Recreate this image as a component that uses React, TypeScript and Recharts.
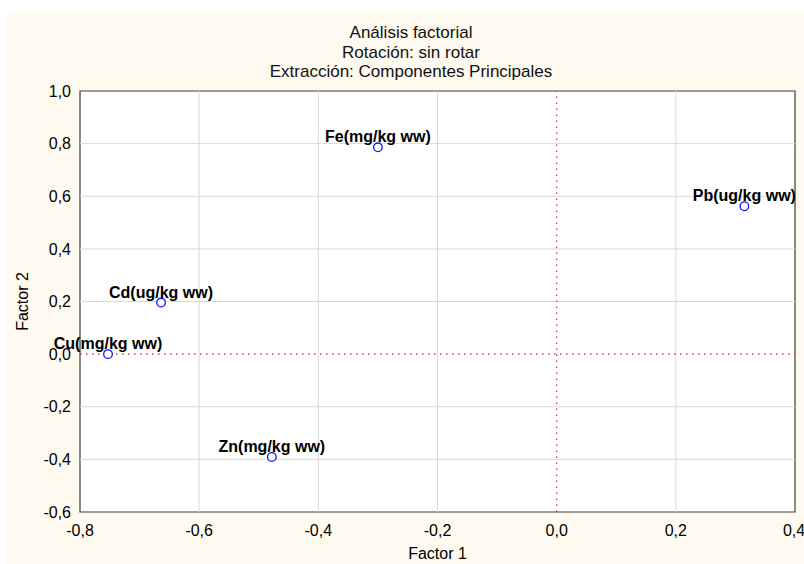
import React from 'react';
import {
  ScatterChart,
  Scatter,
  XAxis,
  YAxis,
  CartesianGrid,
  ReferenceLine,
  ReferenceArea,
  LabelList,
} from 'recharts';

const factorNames = ['Fe(mg/kg ww)', 'Pb(ug/kg ww)', 'Cd(ug/kg ww)', 'Cu(mg/kg ww)', 'Zn(mg/kg ww)'];
const factor1 = [-0.3, 0.315, -0.664, -0.753, -0.478];
const factor2 = [0.786, 0.562, 0.196, 0.0, -0.391];
const xTicks = [-0.8, -0.6, -0.4, -0.2, 0, 0.2, 0.4];
const yTicks = [-0.6, -0.4, -0.2, 0, 0.2, 0.4, 0.6, 0.8, 1.0];
const titleLines = ['Análisis factorial', 'Rotación: sin rotar', 'Extracción: Componentes Principales'];
const xLabel = 'Factor 1';
const yLabel = 'Factor 2';

const data = factorNames.map((name, i) => ({ name, x: factor1[i], y: factor2[i] }));

const FONT = '"Liberation Sans", Arial, sans-serif';
const fmt = (v: number) => v.toFixed(1).replace('.', ',');

const W = 797;
const H = 553;

const Dot = (props: any) => {
  const { cx, cy } = props;
  if (cx == null || cy == null) return null;
  return <circle cx={cx} cy={cy} r={4.3} fill="#ffffff" stroke="#1010ff" strokeWidth={1.3} />;
};

const PointLabel = (props: any) => {
  const { x, y, width, value } = props;
  const cx = x + width / 2;
  return (
    <text
      x={cx}
      y={y + (props.height || 0) / 2 - 5}
      textAnchor="middle"
      fontFamily={FONT}
      fontSize={16}
      fontWeight="bold"
      fill="#000"
    >
      {value}
    </text>
  );
};

export default function App() {
  return (
    <div style={{ position: 'absolute', left: 7, top: 11, width: W, height: H, background: '#FFFAEF' }}>
      <ScatterChart
        width={W}
        height={H}
        margin={{ top: 80, right: 9, left: 0, bottom: 0 }}
        style={{ fontFamily: FONT }}
      >
        <CartesianGrid horizontal={false} vertical={false} fill="#ffffff" />
        <XAxis
          type="number"
          dataKey="x"
          domain={[-0.8, 0.4]}
          ticks={xTicks}
          tickFormatter={fmt}
          allowDataOverflow
          height={52}
          axisLine={false}
          tickLine={false}
          tickSize={0}
          tickMargin={13}
          tick={{ fill: '#000', fontSize: 16, fontFamily: FONT }}
          label={{ value: xLabel, position: 'insideBottom', offset: 5.5, fill: '#000', fontSize: 16, fontFamily: FONT }}
        />
        <YAxis
          type="number"
          dataKey="y"
          domain={[-0.6, 1.0]}
          ticks={yTicks}
          tickFormatter={fmt}
          allowDataOverflow
          width={73}
          axisLine={false}
          tickLine={false}
          tickSize={0}
          tickMargin={9}
          tick={{ fill: '#000', fontSize: 16, fontFamily: FONT }}
          label={{
            value: yLabel,
            angle: -90,
            position: 'insideLeft',
            offset: 15,
            fill: '#000',
            fontSize: 16,
            fontFamily: FONT,
            style: { textAnchor: 'middle' },
          }}
        />
        {xTicks
          .filter((t) => t !== 0 && t !== xTicks[0] && t !== xTicks[xTicks.length - 1])
          .map((t) => (
            <ReferenceLine key={'vx' + t} x={t} stroke="#d9d9d9" strokeWidth={1} />
          ))}
        {yTicks
          .filter((t) => t !== 0 && t !== yTicks[0] && t !== yTicks[yTicks.length - 1])
          .map((t) => (
            <ReferenceLine key={'hy' + t} y={t} stroke="#d9d9d9" strokeWidth={1} />
          ))}
        <ReferenceLine y={0} stroke="#b02a2a" strokeWidth={1.3} strokeDasharray="1.5 4.5" />
        <ReferenceLine x={0} stroke="#e63030" strokeWidth={1.3} strokeDasharray="1.5 4.5" />
        <ReferenceArea
          x1={xTicks[0]}
          x2={xTicks[xTicks.length - 1]}
          y1={yTicks[0]}
          y2={yTicks[yTicks.length - 1]}
          fill="none"
          fillOpacity={0}
          stroke="#3c3c3c"
          strokeWidth={1.2}
        />
        <Scatter data={data} shape={<Dot />} isAnimationActive={false}>
          <LabelList dataKey="name" content={<PointLabel />} />
        </Scatter>
      </ScatterChart>
      <svg
        width={W}
        height={80}
        style={{ position: 'absolute', left: 0, top: 0, pointerEvents: 'none' }}
      >
        {titleLines.map((t, i) => (
          <text
            key={t}
            x={404}
            y={27 + i * 19.5}
            textAnchor="middle"
            fontFamily={FONT}
            fontSize={17}
            fill="#111"
          >
            {t}
          </text>
        ))}
      </svg>
    </div>
  );
}
